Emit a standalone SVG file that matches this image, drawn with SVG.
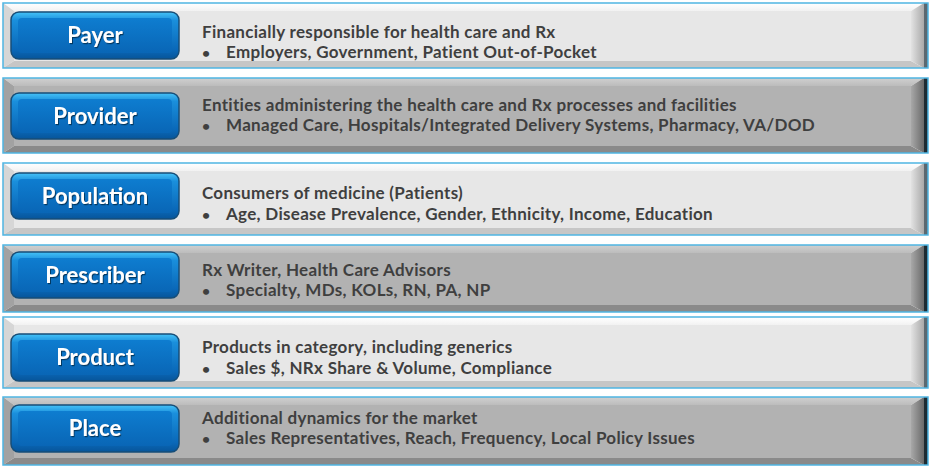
<svg xmlns="http://www.w3.org/2000/svg" width="932" height="469" viewBox="0 0 932 469">
<defs>
<linearGradient id="rbL" x1="0" y1="0" x2="1" y2="0"><stop offset="0" stop-color="#e2e2e2"/><stop offset="1" stop-color="#a9a9a9"/></linearGradient>
<linearGradient id="rbD" x1="0" y1="0" x2="1" y2="0"><stop offset="0" stop-color="#a8a8a8"/><stop offset="1" stop-color="#6a6a6a"/></linearGradient>
<linearGradient id="tbL" x1="0" y1="0" x2="0" y2="1"><stop offset="0" stop-color="#ffffff"/><stop offset="1" stop-color="#f2f2f2"/></linearGradient>
<linearGradient id="tbD" x1="0" y1="0" x2="0" y2="1"><stop offset="0" stop-color="#d0d0d0"/><stop offset="1" stop-color="#bcbcbc"/></linearGradient>
<linearGradient id="btn" x1="0" y1="0" x2="0" y2="1"><stop offset="0" stop-color="#45c2f7"/><stop offset="0.18" stop-color="#1a8fdc"/><stop offset="0.8" stop-color="#0a68b8"/><stop offset="1" stop-color="#07559a"/></linearGradient>
<linearGradient id="btnFace" x1="0" y1="0" x2="0" y2="1"><stop offset="0" stop-color="#0e7dd0"/><stop offset="1" stop-color="#0966b6"/></linearGradient>
<filter id="sh" x="-10%" y="-20%" width="120%" height="140%"><feDropShadow dx="1" dy="1.2" stdDeviation="0.6" flood-color="#062a4a" flood-opacity="0.8"/></filter>
</defs>
<style>
.face-l{fill:#e7e7e7}.face-d{fill:#b2b2b2}
.lb-l{fill:#d6d6d6}.lb-d{fill:#a2a2a2}
.bb-l{fill:#c6c6c6}.bb-d{fill:#8a8a8a}
.st-l{fill:#5b6870}.st-d{fill:#1e2b32}
.frame{fill:none;stroke:#4fb5e2;stroke-width:1.5}
.btn{fill:url(#btn);stroke:#174e78;stroke-width:1.5}
.btnface{fill:url(#btnFace)}
.lbl{font-family:Lato,"Open Sans",sans-serif;font-weight:bold;font-size:22px;fill:#ffffff;text-anchor:middle;filter:url(#sh)}
.desc{font-family:Lato,"Open Sans",sans-serif;font-weight:bold;font-size:17px;letter-spacing:0.3px;fill:#3f3f3f}
.bul{font-family:Lato,"Open Sans",sans-serif;font-weight:bold;font-size:14px;fill:#3f3f3f}
</style>
<rect width="932" height="469" fill="#ffffff"/>

<g id="payer">
<rect x="14" y="11" width="897" height="50" class="face-l"/>
<polygon points="3,3 924,3 911,11 14,11" fill="url(#tbL)"/>
<polygon points="3,3 14,11 14,61 3,68" class="lb-l"/>
<polygon points="3,68 14,61 911,61 924,68" class="bb-l"/>
<polygon points="924,3 924,68 911,61 911,11" fill="url(#rbL)"/>
<rect x="924" y="3" width="4" height="65" class="st-l"/>
<rect x="3" y="3" width="925" height="65" class="frame"/>
<rect x="11" y="12" width="168" height="47" rx="8" class="btn"/>
<rect x="18" y="18" width="154" height="35" rx="4" class="btnface"/>
<text x="95" y="43" class="lbl">Payer</text>
<text x="202" y="38" class="desc">Financially responsible for health care and Rx</text>
<text x="202" y="58" class="bul">•</text>
<text x="226" y="58" class="desc">Employers, Government, Patient Out-of-Pocket</text>
</g>

<g id="provider">
<rect x="14" y="86" width="897" height="60" class="face-d"/>
<polygon points="3,78 924,78 911,86 14,86" fill="url(#tbD)"/>
<polygon points="3,78 14,86 14,146 3,153" class="lb-d"/>
<polygon points="3,153 14,146 911,146 924,153" class="bb-d"/>
<polygon points="924,78 924,153 911,146 911,86" fill="url(#rbD)"/>
<rect x="924" y="78" width="4" height="75" class="st-d"/>
<rect x="3" y="78" width="925" height="75" class="frame"/>
<rect x="11" y="93" width="168" height="46" rx="8" class="btn"/>
<rect x="18" y="99" width="154" height="34" rx="4" class="btnface"/>
<text x="95" y="124" class="lbl">Provider</text>
<text x="202" y="111" class="desc">Entities administering the health care and Rx processes and facilities</text>
<text x="202" y="131" class="bul">•</text>
<text x="226" y="131" class="desc">Managed Care, Hospitals/Integrated Delivery Systems, Pharmacy, VA/DOD</text>
</g>

<g id="population">
<rect x="14" y="171" width="897" height="57" class="face-l"/>
<polygon points="3,163 924,163 911,171 14,171" fill="url(#tbL)"/>
<polygon points="3,163 14,171 14,228 3,235" class="lb-l"/>
<polygon points="3,235 14,228 911,228 924,235" class="bb-l"/>
<polygon points="924,163 924,235 911,228 911,171" fill="url(#rbL)"/>
<rect x="924" y="163" width="4" height="72" class="st-l"/>
<rect x="3" y="163" width="925" height="72" class="frame"/>
<rect x="11" y="173" width="168" height="46" rx="8" class="btn"/>
<rect x="18" y="179" width="154" height="34" rx="4" class="btnface"/>
<text x="95" y="204" class="lbl">Population</text>
<text x="202" y="199" class="desc">Consumers of medicine (Patients)</text>
<text x="202" y="220" class="bul">•</text>
<text x="226" y="220" class="desc">Age, Disease Prevalence, Gender, Ethnicity, Income, Education</text>
</g>

<g id="prescriber">
<rect x="14" y="253" width="897" height="52" class="face-d"/>
<polygon points="3,245 924,245 911,253 14,253" fill="url(#tbD)"/>
<polygon points="3,245 14,253 14,305 3,312" class="lb-d"/>
<polygon points="3,312 14,305 911,305 924,312" class="bb-d"/>
<polygon points="924,245 924,312 911,305 911,253" fill="url(#rbD)"/>
<rect x="924" y="245" width="4" height="67" class="st-d"/>
<rect x="3" y="245" width="925" height="67" class="frame"/>
<rect x="11" y="252" width="168" height="46" rx="8" class="btn"/>
<rect x="18" y="258" width="154" height="34" rx="4" class="btnface"/>
<text x="95" y="283" class="lbl">Prescriber</text>
<text x="202" y="276" class="desc">Rx Writer, Health Care Advisors</text>
<text x="202" y="296" class="bul">•</text>
<text x="226" y="296" class="desc">Specialty, MDs, KOLs, RN, PA, NP</text>
</g>

<g id="product">
<rect x="14" y="325" width="897" height="56" class="face-l"/>
<polygon points="3,317 924,317 911,325 14,325" fill="url(#tbL)"/>
<polygon points="3,317 14,325 14,381 3,388" class="lb-l"/>
<polygon points="3,388 14,381 911,381 924,388" class="bb-l"/>
<polygon points="924,317 924,388 911,381 911,325" fill="url(#rbL)"/>
<rect x="924" y="317" width="4" height="71" class="st-l"/>
<rect x="3" y="317" width="925" height="71" class="frame"/>
<rect x="11" y="334" width="168" height="47" rx="8" class="btn"/>
<rect x="18" y="340" width="154" height="35" rx="4" class="btnface"/>
<text x="95" y="365" class="lbl">Product</text>
<text x="202" y="353" class="desc">Products in category, including generics</text>
<text x="202" y="374" class="bul">•</text>
<text x="226" y="374" class="desc">Sales $, NRx Share &amp; Volume, Compliance</text>
</g>

<g id="place">
<rect x="14" y="405" width="897" height="53" class="face-d"/>
<polygon points="3,397 924,397 911,405 14,405" fill="url(#tbD)"/>
<polygon points="3,397 14,405 14,458 3,465" class="lb-d"/>
<polygon points="3,465 14,458 911,458 924,465" class="bb-d"/>
<polygon points="924,397 924,465 911,458 911,405" fill="url(#rbD)"/>
<rect x="924" y="397" width="4" height="68" class="st-d"/>
<rect x="3" y="397" width="925" height="68" class="frame"/>
<rect x="11" y="405" width="168" height="47" rx="8" class="btn"/>
<rect x="18" y="411" width="154" height="35" rx="4" class="btnface"/>
<text x="95" y="436" class="lbl">Place</text>
<text x="202" y="424" class="desc">Additional dynamics for the market</text>
<text x="202" y="444" class="bul">•</text>
<text x="226" y="444" class="desc">Sales Representatives, Reach, Frequency, Local Policy Issues</text>
</g>
</svg>
